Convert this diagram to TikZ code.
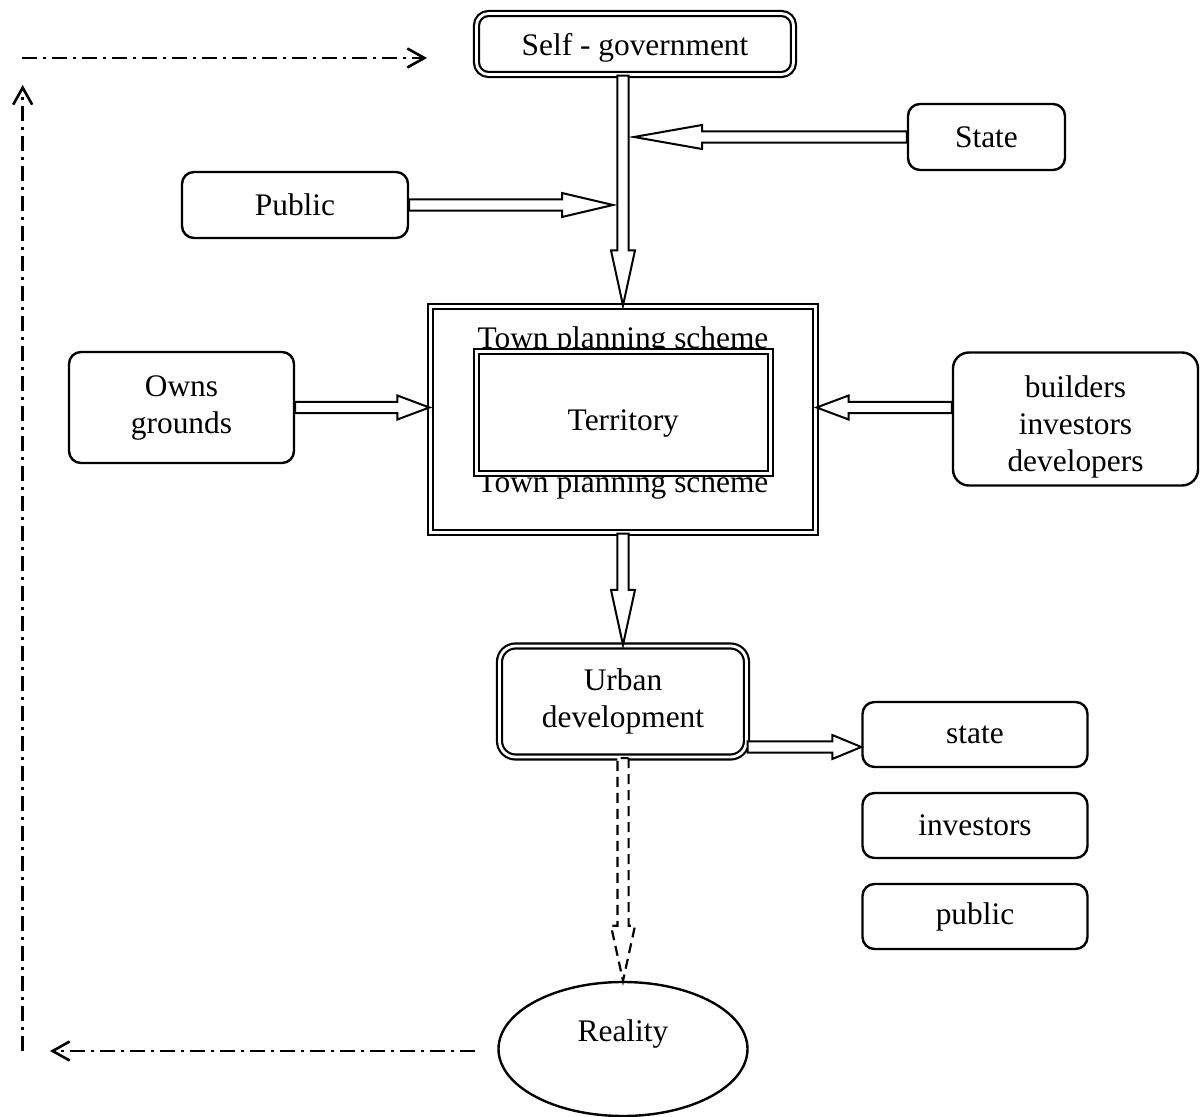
\documentclass[tikz,border=0pt]{standalone}
\usepackage{fontspec}
\setmainfont{Liberation Serif}
\usetikzlibrary{calc, positioning, shapes.geometric, arrows.meta}

\newcommand{\mainsz}{\fontsize{15.7pt}{18.5pt}\selectfont}

% hollow block arrow: [style]{head length}{from}{to}
\newcommand{\hollowarrow}[4][]{%
  \coordinate (ha-s) at (#3);
  \coordinate (ha-t) at (#4);
  \coordinate (ha-b) at ($(ha-t)!#2!(ha-s)$);
  \draw[blockarrow,#1] ($(ha-s)!2.8pt!90:(ha-t)$) -- ($(ha-b)!2.8pt!90:(ha-t)$)
    -- ($(ha-b)!6pt!90:(ha-t)$) -- (ha-t) -- ($(ha-b)!6pt!-90:(ha-t)$)
    -- ($(ha-b)!2.8pt!-90:(ha-t)$) -- ($(ha-s)!2.8pt!-90:(ha-t)$) -- cycle;
}

\begin{document}
\begin{tikzpicture}[x=0.5pt, y=-0.5pt,
  box/.style={draw, line width=1.2pt, rounded corners=6pt, align=center, font=\mainsz},
  dbox/.style={draw, line width=1.1pt, double, double distance=1.4pt, align=center, font=\mainsz},
  blockarrow/.style={draw, line width=1pt, fill=white, line join=miter},
  feedback/.style={line width=1.3pt, dash pattern=on 7.5pt off 3pt on 1.5pt off 3pt,
    -{Straight Barb[length=8.5pt, width=9.5pt]}}]

\useasboundingbox (0,0) rectangle (1200,1117);

% Self-government at the top
\node[dbox, rounded corners=6pt, minimum width=158.5pt, minimum height=30.5pt, text depth=0pt] (selfgov) at (635,44) {Self - government};

% Actors round the scheme
\node[box, minimum width=78.5pt, minimum height=33pt] (state) at (986.5,137) {State};
\node[box, minimum width=113pt, minimum height=33pt] (public) at (295,205) {Public};
\node[box, minimum width=112.5pt, minimum height=55.5pt] (owns) at (181.5,407.5) {Owns\\grounds};
\node[box, rounded corners=8pt, minimum width=122.5pt, minimum height=66.5pt, text height=55.7pt, text depth=3.4pt] (builders) at (1075.5,419) {builders\\investors\\developers};

% Town planning scheme with the territory inside
\node[dbox, minimum width=192.5pt, minimum height=113pt] (tps) at (623,419.5) {};
\foreach \y/\n in {349/tpstop, 493/tpsbot}
{
    \node[anchor=base, font=\mainsz, inner sep=0pt] (\n) at (623,\y) {Town planning scheme};
}
\node[dbox, fill=white, minimum width=147pt, minimum height=61pt, text height=21.5pt, text depth=3.5pt] (terr) at (623.3,412.5) {Territory};

% Urban development and who gets it
\node[dbox, rounded corners=8pt, minimum width=123.5pt, minimum height=55.5pt] (urban) at (623,701.5) {Urban\\development};
\node[box, minimum width=112.5pt, minimum height=32.5pt] (ustate) at (975,734.5) {state};
\node[box, minimum width=112.5pt, minimum height=32.5pt, below=11.8pt of ustate] (uinv) {investors};
\node[box, minimum width=112.5pt, minimum height=32.5pt, below=11.8pt of uinv] (upub) {public};

% Reality
\node[draw, ellipse, line width=1.2pt, font=\mainsz, minimum width=124.5pt, minimum height=67pt, text height=11pt, text depth=18.3pt] (reality) at (623,1049) {Reality};

% Block arrows
\hollowarrow{27.5pt}{selfgov.south -| tps.north}{tps.north}
\hollowarrow{34pt}{state.west}{$(state.west -| tps.north)+(11,0)$}
\hollowarrow{25.5pt}{public.east}{$(public.east -| tps.north)+(-10,0)$}
\hollowarrow{16pt}{owns.east}{tps.west |- owns.east}
\hollowarrow{16pt}{builders.west |- owns.east}{tps.east |- owns.east}
\hollowarrow{27.5pt}{tps.south}{urban.north}
\hollowarrow{14.5pt}{$(urban.east |- ustate.west)+(0,12.5)$}{$(ustate.west)+(0,12.5)$}
\hollowarrow[dash pattern=on 5pt off 3pt, line width=1.1pt]{27.5pt}{urban.south}{reality.north}

% Feedback loop (dash dot)
\coordinate (fbtl) at (22,58);
\coordinate (fbtr) at (427,58);
\coordinate (fbbl) at (22.7,1051);
\coordinate (fbvt) at (22.7,85);
\coordinate (fbtip) at (50,1051);
\draw[feedback] (fbtl) -- (fbtr);
\draw[feedback] (fbbl) -- (fbvt);
\draw[feedback] ($(reality.west)+(-22,2)$) -- (fbtip);

\end{tikzpicture}
\end{document}
